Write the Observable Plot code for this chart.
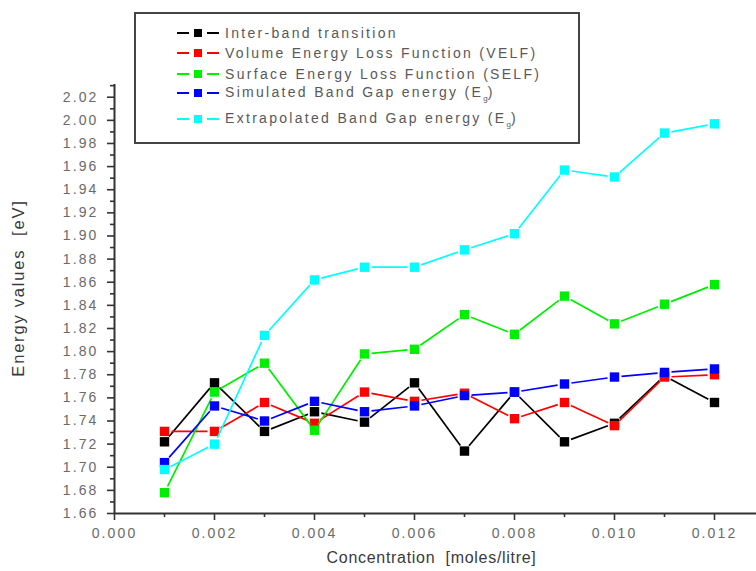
<!DOCTYPE html>
<html>
<head>
<meta charset="utf-8">
<script src="https://cdn.jsdelivr.net/npm/d3@7"></script>
<script src="https://cdn.jsdelivr.net/npm/@observablehq/plot@0.6"></script>
<style>
  html, body { margin: 0; padding: 0; background: #fff; }
  #wrap { position: relative; width: 756px; height: 571px; overflow: hidden; font-family: "Liberation Sans", Arial, sans-serif; }
  #legend {
    position: absolute; left: 134px; top: 12px; width: 442px; height: 128px;
    border: 2px solid #444; background: #fff;
  }
  .row { position: absolute; left: 0; height: 16px; display: flex; align-items: center; }
  .sym { position: relative; width: 42px; height: 16px; margin-left: 41px; }
  .sym .dash { position: absolute; top: 7px; height: 2px; width: 12px; }
  .sym .sq { position: absolute; top: 4px; left: 17px; width: 8px; height: 8px; }
  .lab { margin-left: 6px; font-size: 14px; letter-spacing: 2.3px; color: #595959; white-space: nowrap; }
  .lab sub { font-size: 8px; letter-spacing: 0; vertical-align: -4px; }
</style>
</head>
<body>
<div id="wrap"></div>
<script>
// Concentration (moles/litre) and the five energy series (eV)
const conc = [0.001, 0.002, 0.003, 0.004, 0.005, 0.006, 0.007, 0.008, 0.009, 0.010, 0.011, 0.012];
const interband    = [1.722, 1.773, 1.731, 1.748, 1.739, 1.773, 1.714, 1.765, 1.722, 1.738, 1.779, 1.756];
const velf         = [1.731, 1.731, 1.756, 1.738, 1.765, 1.757, 1.764, 1.742, 1.756, 1.736, 1.778, 1.780];
const selfValues   = [1.678, 1.765, 1.790, 1.732, 1.798, 1.802, 1.832, 1.815, 1.848, 1.824, 1.841, 1.858];
const simulated    = [1.704, 1.753, 1.740, 1.757, 1.748, 1.753, 1.762, 1.765, 1.772, 1.778, 1.782, 1.785];
const extrapolated = [1.698, 1.720, 1.814, 1.862, 1.873, 1.873, 1.888, 1.902, 1.957, 1.951, 1.989, 1.997];

const seriesNames = [
  "Inter-band transition",
  "Volume Energy Loss Function (VELF)",
  "Surface Energy Loss Function (SELF)",
  "Simulated Band Gap energy (E<sub>g</sub>)",
  "Extrapolated Band Gap energy (E<sub>g</sub>)"
];
const seriesValues = [interband, velf, selfValues, simulated, extrapolated];
const seriesColors = ["#000000", "#ff0000", "#00ee00", "#0000ff", "#00ffff"];

// Axis ticks
const xMajor = [0.000, 0.002, 0.004, 0.006, 0.008, 0.010, 0.012];
const xMinor = [0.001, 0.003, 0.005, 0.007, 0.009, 0.011];
const yMajor = [1.66, 1.68, 1.70, 1.72, 1.74, 1.76, 1.78, 1.80, 1.82, 1.84, 1.86, 1.88, 1.90, 1.92, 1.94, 1.96, 1.98, 2.00, 2.02];
const yMinor = [1.67, 1.69, 1.71, 1.73, 1.75, 1.77, 1.79, 1.81, 1.83, 1.85, 1.87, 1.89, 1.91, 1.93, 1.95, 1.97, 1.99, 2.01, 2.03];

const xTitle = "Concentration  [moles/litre]";
const yTitle = "Energy values  [eV]";

// One mark group per series: line segments pulled back from the markers, then square markers
const seriesMarks = seriesValues.flatMap((vals, k) => {
  const pts = conc.map((c, i) => ({c, v: vals[i]}));
  const segs = pts.slice(1).map((p, i) => ({x1: pts[i].c, y1: pts[i].v, x2: p.c, y2: p.v}));
  return [
    Plot.arrow(segs, {
      x1: "x1", y1: "y1", x2: "x2", y2: "y2",
      stroke: seriesColors[k], strokeWidth: 1.7, headLength: 0,
      insetStart: 7, insetEnd: 7, strokeLinecap: "butt"
    }),
    Plot.dot(pts, {x: "c", y: "v", symbol: "square", r: 5.3, fill: seriesColors[k], stroke: "none"})
  ];
});

const chart = Plot.plot({
  width: 756,
  height: 571,
  marginLeft: 114,
  marginRight: 0,
  marginTop: 84,
  marginBottom: 58,
  x: {domain: [0, 0.01284]},
  y: {domain: [1.66, 2.031]},
  style: {fontFamily: "'Liberation Sans', Arial, sans-serif", fontSize: "14px", color: "#333", background: "#fff"},
  marks: [
    Plot.axisX({ticks: xMajor, tickSize: 7, tickPadding: 8, tickFormat: d3.format(".3f"), fill: "#6a6a6a", stroke: "#333", strokeWidth: 1.6, label: null, className: "ticklab"}),
    Plot.axisX({ticks: xMinor, tickSize: 4, tickFormat: () => "", stroke: "#333", strokeWidth: 1.6, label: null}),
    Plot.axisY({ticks: yMajor, tickSize: 7, tickPadding: 9, tickFormat: d3.format(".2f"), fill: "#6a6a6a", stroke: "#333", strokeWidth: 1.6, label: null, className: "ticklab"}),
    Plot.axisY({ticks: yMinor, tickSize: 4, tickFormat: () => "", stroke: "#333", strokeWidth: 1.6, label: null}),
    Plot.ruleY([1.66], {stroke: "#333", strokeWidth: 2}),
    Plot.ruleX([0], {stroke: "#333", strokeWidth: 2}),
    ...seriesMarks,
    Plot.text([xTitle], {frameAnchor: "bottom", lineAnchor: "middle", textAnchor: "middle", dx: -4, dy: 44, text: d => d, fontSize: 16, fill: "#3a3a3a", className: "title-x"}),
    Plot.text([yTitle], {frameAnchor: "left", lineAnchor: "middle", textAnchor: "middle", dx: -96, dy: -11, rotate: -90, text: d => d, fontSize: 16.5, fill: "#3a3a3a", className: "title-y"})
  ]
});

d3.select(chart).selectAll(".ticklab text").style("letter-spacing", "2.1px");
d3.select(chart).selectAll(".title-x text").style("letter-spacing", "0.7px");
d3.select(chart).selectAll(".title-y text").style("letter-spacing", "1.8px");

const wrap = document.getElementById("wrap");
wrap.appendChild(chart);

// Legend box
const legend = document.createElement("div");
legend.id = "legend";
const rowCenters = [33, 53, 74, 93, 119];
seriesNames.forEach((name, k) => {
  const row = document.createElement("div");
  row.className = "row";
  row.style.top = (rowCenters[k] - 14 - 8) + "px";
  row.innerHTML =
    `<div class="sym">` +
    `<div class="dash" style="left:0;background:${seriesColors[k]}"></div>` +
    `<div class="sq" style="background:${seriesColors[k]}"></div>` +
    `<div class="dash" style="left:30px;background:${seriesColors[k]}"></div>` +
    `</div><div class="lab">${name}</div>`;
  legend.appendChild(row);
});
wrap.appendChild(legend);
</script>
</body>
</html>
